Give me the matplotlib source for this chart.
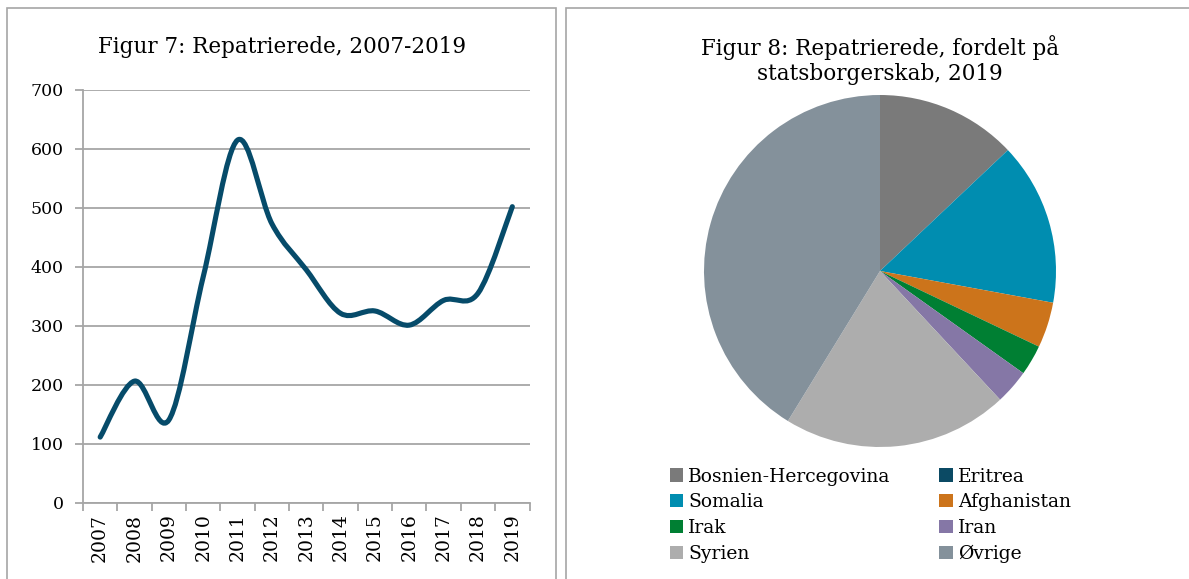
import numpy as np
import matplotlib.pyplot as plt
from matplotlib.path import Path
from matplotlib.patches import PathPatch, Rectangle

# --- data ---
years = ['2007', '2008', '2009', '2010', '2011', '2012', '2013',
         '2014', '2015', '2016', '2017', '2018', '2019']
repatrierede = [111, 206, 140, 383, 615, 473, 395, 321, 325, 301, 343, 355, 502]

countries = ['Bosnien-Hercegovina', 'Eritrea', 'Somalia', 'Afghanistan',
             'Irak', 'Iran', 'Syrien', 'Øvrige']
counts_2019 = [65, 0, 75, 21, 14, 16, 104, 207]
colors = ['#7a7a7a', '#0b4a64', '#008db0', '#cc741b',
          '#007f33', '#8577a6', '#adadad', '#84919b']

W, H = 1189, 579
serif = 'DejaVu Serif'
grid_c = '#a6a6a6'
line_c = '#064b6a'


def fx(px):
    return px / W


def fy(py):
    return 1 - py / H


# Excel-style smoothed line as bezier path (curve passes through every point)
def smooth_path(x, y):
    pts = np.column_stack([x, y]).astype(float)
    n = len(pts)
    verts = [pts[0]]
    codes = [Path.MOVETO]
    for i in range(n - 1):
        p0 = pts[max(i - 1, 0)]
        p1 = pts[i]
        p2 = pts[i + 1]
        p3 = pts[min(i + 2, n - 1)]
        c1 = p1 + (p2 - p0) / 6
        c2 = p2 - (p3 - p1) / 6
        verts += [c1, c2, p2]
        codes += [Path.CURVE4] * 3
    return Path(verts, codes)


fig = plt.figure(figsize=(W / 100, H / 100), dpi=100)

# panel frames
fig.patches.append(Rectangle((fx(7), fy(600)), fx(556 - 7), fy(8) - fy(600),
                             transform=fig.transFigure, fill=False,
                             edgecolor=grid_c, lw=1.2))
fig.patches.append(Rectangle((fx(566), fy(600)), fx(700), fy(8) - fy(600),
                             transform=fig.transFigure, fill=False,
                             edgecolor=grid_c, lw=1.2))

# --- Figur 7: line chart ---
ax = fig.add_axes([fx(83), fy(502.5), fx(529.5 - 83), fy(90) - fy(502.5)])
xs = np.arange(len(years))
ax.add_patch(PathPatch(smooth_path(xs, repatrierede), fill=False,
                       edgecolor=line_c, lw=3.7, capstyle='round',
                       joinstyle='round', zorder=3))
ax.set_xlim(-0.5, len(years) - 0.5)
ax.set_ylim(0, 700)
ax.set_yticks(range(0, 701, 100))
ax.yaxis.grid(True, color=grid_c, lw=1.3)
ax.set_axisbelow(True)
for s in ['top', 'right']:
    ax.spines[s].set_visible(False)
for s in ['left', 'bottom']:
    ax.spines[s].set_color(grid_c)
    ax.spines[s].set_linewidth(1.3)
ax.set_xticks(np.arange(-0.5, len(years)), labels=[])
ax.set_xticks(xs, labels=years, minor=True, rotation=90)
ax.tick_params(axis='x', which='major', length=6, color=grid_c, width=1.3)
ax.tick_params(axis='x', which='minor', length=0, pad=8)
ax.tick_params(axis='y', length=6, color=grid_c, width=1.3, pad=8)
for lab in ax.get_xticklabels(minor=True):
    lab.set_fontfamily(serif)
    lab.set_fontsize(13.5)
for lab in ax.get_yticklabels():
    lab.set_fontfamily(serif)
    lab.set_fontsize(12.5)
ax.set_facecolor('none')

fig.text(fx(282), fy(47), 'Figur 7: Repatrierede, 2007-2019',
         ha='center', va='center', family=serif, fontsize=15.5)

# --- Figur 8: pie chart ---
r = 176
pax = fig.add_axes([fx(880 - r), fy(271 + r), fx(2 * r), fy(271 - r) - fy(271 + r)])
wedges, _ = pax.pie(counts_2019, colors=colors, startangle=90,
                    counterclock=False, radius=1,
                    wedgeprops=dict(linewidth=0))
pax.set_xlim(-1, 1)
pax.set_ylim(-1, 1)
pax.set_aspect('equal')
pax.axis('off')

fig.text(fx(880), fy(60), 'Figur 8: Repatrierede, fordelt på\nstatsborgerskab, 2019',
         ha='center', va='center', family=serif, fontsize=15.5, linespacing=1.2)

# legend: row-major order, two columns
order = [0, 2, 4, 6, 1, 3, 5, 7]
leg = fig.legend([wedges[i] for i in order], [countries[i] for i in order],
                 ncol=2, loc='upper left', bbox_to_anchor=(fx(662), fy(460)),
                 frameon=False, prop={'family': serif, 'size': 13.5},
                 handlelength=0.7, handleheight=0.7, handletextpad=0.3,
                 columnspacing=2.6, labelspacing=0.42, borderaxespad=0)

fig.savefig('out.png', dpi=100)
